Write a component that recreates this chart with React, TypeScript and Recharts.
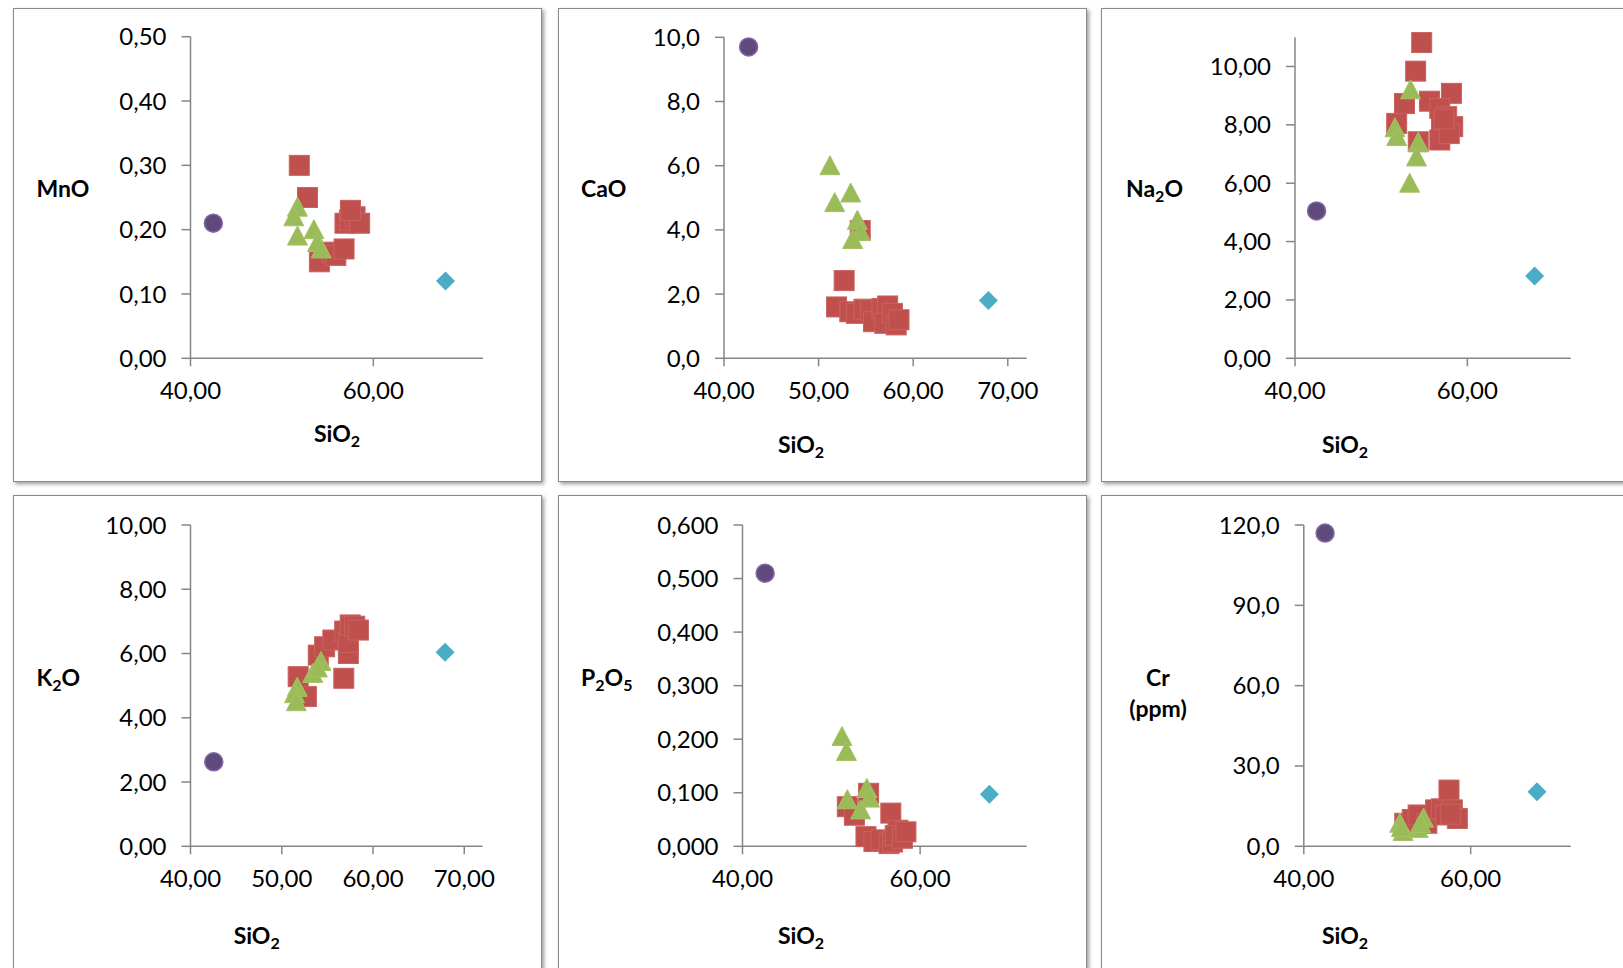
import { Scatter, ScatterChart, XAxis, YAxis } from "recharts";

type Pt = [number, number];
type Part = [string, boolean];

const FONT = "Lato, 'Open Sans', sans-serif";
const AXIS_GREY = "#868686";

// x axis (SiO2) shared by every panel
const sio2Domain: [number, number] = [40, 72];
const sio2TicksCoarse = [40, 60];
const sio2TicksFine = [40, 50, 60, 70];

// MnO vs SiO2
const mnoTicks = [0, 0.1, 0.2, 0.3, 0.4, 0.5];
const mnoCircle: Pt[] = [[42.5, 0.21]];
const mnoSquare: Pt[] = [
  [51.9, 0.3], [52.8, 0.25], [54.1, 0.15], [55.5, 0.165], [55.9, 0.16], [56.8, 0.17],
  [56.9, 0.21], [57.4, 0.215], [58.0, 0.22], [58.5, 0.21], [57.5, 0.23],
];
const mnoTriangle: Pt[] = [[51.7, 0.235], [51.3, 0.22], [51.7, 0.19], [53.5, 0.2], [53.9, 0.18], [54.3, 0.17]];
const mnoDiamond: Pt[] = [[67.9, 0.12]];

// CaO vs SiO2
const caoTicks = [0, 2, 4, 6, 8, 10];
const caoCircle: Pt[] = [[42.6, 9.7]];
const caoSquare: Pt[] = [
  [51.9, 1.6], [52.7, 2.42], [54.4, 3.98], [53.3, 1.45], [54.0, 1.4], [54.8, 1.53], [55.5, 1.5],
  [55.8, 1.14], [56.7, 1.55], [57.3, 1.63], [57.0, 1.09], [57.8, 1.4], [58.2, 1.04], [58.5, 1.2],
];
const caoTriangle: Pt[] = [[51.2, 6.0], [51.7, 4.85], [53.4, 5.15], [54.1, 4.3], [54.4, 3.95], [53.6, 3.7]];
const caoDiamond: Pt[] = [[67.95, 1.8]];

// Na2O vs SiO2
const na2oTicks = [0, 2, 4, 6, 8, 10];
const na2oCircle: Pt[] = [[42.5, 5.05]];
const na2oSquare: Pt[] = [
  [54.7, 10.82], [54.0, 9.84], [52.7, 8.73], [51.8, 8.05], [55.6, 8.81], [58.15, 9.08], [56.8, 8.56],
  [57.6, 8.28], [58.3, 7.94], [57.0, 7.88], [56.8, 7.48], [54.3, 7.42], [57.9, 7.7], [57.3, 8.2],
];
const na2oTriangle: Pt[] = [[53.4, 9.2], [51.6, 7.9], [51.8, 7.6], [54.3, 7.4], [54.1, 6.9], [53.3, 6.0]];
const na2oDiamond: Pt[] = [[67.8, 2.82]];

// K2O vs SiO2
const k2oTicks = [0, 2, 4, 6, 8, 10];
const k2oCircle: Pt[] = [[42.55, 2.63]];
const k2oSquare: Pt[] = [
  [51.8, 5.28], [52.7, 4.66], [54.0, 5.95], [54.7, 6.21], [55.6, 6.42], [56.8, 5.23],
  [56.9, 6.7], [57.3, 6.0], [57.3, 6.35], [57.5, 6.89], [58.0, 6.85], [58.4, 6.73],
];
const k2oTriangle: Pt[] = [[51.7, 4.95], [51.4, 4.75], [51.6, 4.5], [53.4, 5.38], [54.3, 5.75], [53.9, 5.55]];
const k2oDiamond: Pt[] = [[67.9, 6.04]];

// P2O5 vs SiO2
const p2o5Ticks = [0, 0.1, 0.2, 0.3, 0.4, 0.5, 0.6];
const p2o5Circle: Pt[] = [[42.55, 0.51]];
const p2o5Square: Pt[] = [
  [51.8, 0.074], [52.6, 0.058], [54.2, 0.099], [56.7, 0.062], [53.9, 0.018], [54.8, 0.009], [55.6, 0.012],
  [56.5, 0.005], [56.9, 0.008], [57.5, 0.03], [57.2, 0.02], [58.0, 0.015], [58.4, 0.027],
];
const p2o5Triangle: Pt[] = [[51.2, 0.205], [51.7, 0.177], [51.8, 0.087], [54.0, 0.108], [54.3, 0.09], [53.3, 0.068]];
const p2o5Diamond: Pt[] = [[67.8, 0.097]];

// Cr (ppm) vs SiO2
const crTicks = [0, 30, 60, 90, 120];
const crCircle: Pt[] = [[42.55, 117]];
const crSquare: Pt[] = [
  [52.1, 8.6], [53.0, 10.0], [53.7, 11.7], [54.75, 8.6], [55.8, 13.6], [56.5, 14.0],
  [57.0, 11.7], [57.4, 21.0], [57.8, 13.6], [58.4, 10.4], [57.6, 12.0],
];
const crTriangle: Pt[] = [[51.5, 8.6], [51.9, 5.5], [51.7, 7.0], [54.35, 10.5], [53.7, 6.7], [54.0, 8.5]];
const crDiamond: Pt[] = [[67.95, 20.4]];

const fmt = (d: number) => (v: number) => v.toFixed(d).replace(".", ",");
const toXY = (pts: Pt[]) => pts.map(([x, y]) => ({ x, y }));

const Square = (p: any) => (
  <rect x={p.cx - 10} y={p.cy - 10} width={20} height={20} fill="#C0504D" stroke="#CA625F" strokeWidth={1} />
);
const Triangle = (p: any) => (
  <polygon
    points={`${p.cx},${p.cy - 10} ${p.cx + 10},${p.cy + 9} ${p.cx - 10},${p.cy + 9}`}
    fill="#9BBB59"
    stroke="#A4C266"
    strokeWidth={1}
  />
);
const Dot = (p: any) => <circle cx={p.cx} cy={p.cy} r={9} fill="#604A7B" stroke="#8467A5" strokeWidth={1.5} />;
const Diamond = (p: any) => (
  <polygon points={`${p.cx},${p.cy - 9.5} ${p.cx + 9.5},${p.cy} ${p.cx},${p.cy + 9.5} ${p.cx - 9.5},${p.cy}`} fill="#4BACC6" />
);

function rich(parts: Part[]) {
  let down = false;
  return parts.map(([t, sub], i) => {
    const dy = sub && !down ? 5 : !sub && down ? -5 : 0;
    down = sub;
    return (
      <tspan key={i} dy={dy} fontSize={sub ? 16 : undefined}>
        {t}
      </tspan>
    );
  });
}

interface PanelDef {
  left: number;
  top: number;
  plot: { l: number; r: number; t: number; b: number };
  yDomain: [number, number];
  yTicks: number[];
  yDec: number;
  xTicks: number[];
  yTitle: { x: number; anchor: "start" | "middle"; lines: { y: number; parts: Part[] }[] };
  xTitle: { x: number; y: number };
  circle: Pt[];
  square: Pt[];
  triangle: Pt[];
  diamond: Pt[];
}

const W = 529;
const H = 474;

const panels: PanelDef[] = [
  {
    left: 13, top: 8, plot: { l: 177.5, r: 470, t: 28.7, b: 350.3 },
    yDomain: [0, 0.5], yTicks: mnoTicks, yDec: 2, xTicks: sio2TicksCoarse,
    yTitle: { x: 23.5, anchor: "start", lines: [{ y: 188.7, parts: [["MnO", false]] }] },
    xTitle: { x: 324, y: 433.7 },
    circle: mnoCircle, square: mnoSquare, triangle: mnoTriangle, diamond: mnoDiamond,
  },
  {
    left: 558, top: 8, plot: { l: 166, r: 468.7, t: 29.3, b: 350.3 },
    yDomain: [0, 10], yTicks: caoTicks, yDec: 1, xTicks: sio2TicksFine,
    yTitle: { x: 23, anchor: "start", lines: [{ y: 188.7, parts: [["CaO", false]] }] },
    xTitle: { x: 243, y: 445.3 },
    circle: caoCircle, square: caoSquare, triangle: caoTriangle, diamond: caoDiamond,
  },
  {
    left: 1101, top: 8, plot: { l: 194, r: 469.8, t: 29.3, b: 350.3 },
    yDomain: [0, 11], yTicks: na2oTicks, yDec: 2, xTicks: sio2TicksCoarse,
    yTitle: { x: 25, anchor: "start", lines: [{ y: 188.7, parts: [["Na", false], ["2", true], ["O", false]] }] },
    xTitle: { x: 244, y: 445.3 },
    circle: na2oCircle, square: na2oSquare, triangle: na2oTriangle, diamond: na2oDiamond,
  },
  {
    left: 13, top: 495, plot: { l: 177.5, r: 469.5, t: 30, b: 351.3 },
    yDomain: [0, 10], yTicks: k2oTicks, yDec: 2, xTicks: sio2TicksFine,
    yTitle: { x: 23.5, anchor: "start", lines: [{ y: 191, parts: [["K", false], ["2", true], ["O", false]] }] },
    xTitle: { x: 243.7, y: 449 },
    circle: k2oCircle, square: k2oSquare, triangle: k2oTriangle, diamond: k2oDiamond,
  },
  {
    left: 558, top: 495, plot: { l: 184.5, r: 468.7, t: 30, b: 351.3 },
    yDomain: [0, 0.6], yTicks: p2o5Ticks, yDec: 3, xTicks: sio2TicksCoarse,
    yTitle: {
      x: 23, anchor: "start",
      lines: [{ y: 191, parts: [["P", false], ["2", true], ["O", false], ["5", true]] }],
    },
    xTitle: { x: 243, y: 449 },
    circle: p2o5Circle, square: p2o5Square, triangle: p2o5Triangle, diamond: p2o5Diamond,
  },
  {
    left: 1101, top: 495, plot: { l: 202.8, r: 469.8, t: 30, b: 351.3 },
    yDomain: [0, 120], yTicks: crTicks, yDec: 1, xTicks: sio2TicksCoarse,
    yTitle: {
      x: 57, anchor: "middle",
      lines: [{ y: 191, parts: [["Cr", false]] }, { y: 222.3, parts: [["(ppm)", false]] }],
    },
    xTitle: { x: 244, y: 449 },
    circle: crCircle, square: crSquare, triangle: crTriangle, diamond: crDiamond,
  },
];

function Panel({ p }: { p: PanelDef }) {
  const axisLine = { stroke: AXIS_GREY, strokeWidth: 1.5 };
  const tick = { fill: "#000", fontSize: 24, fontFamily: FONT };
  const titleStyle = { fontFamily: FONT, fontSize: 23, fontWeight: 700, fill: "#000" };

  const xTitle = () => (
    <text x={p.xTitle.x} y={p.xTitle.y} textAnchor="middle" style={titleStyle}>
      {rich([["SiO", false], ["2", true]])}
    </text>
  );
  const yTitle = () => (
    <g>
      {p.yTitle.lines.map((line, i) => (
        <text key={i} x={p.yTitle.x} y={line.y} textAnchor={p.yTitle.anchor} style={titleStyle}>
          {rich(line.parts)}
        </text>
      ))}
    </g>
  );

  return (
    <div
      style={{
        position: "absolute",
        left: p.left,
        top: p.top,
        width: W - 2,
        height: H - 2,
        border: "1px solid #8a8a8a",
        boxShadow: "2px 2px 4px rgba(0,0,0,0.4)",
        background: "#fff",
      }}
    >
      <div style={{ position: "absolute", left: -1, top: -1 }}>
        <ScatterChart
          width={W}
          height={H}
          margin={{ top: p.plot.t, right: W - p.plot.r, bottom: H - p.plot.b - 60, left: 0 }}
        >
          <XAxis
            type="number"
            dataKey="x"
            domain={sio2Domain}
            ticks={p.xTicks}
            interval={0}
            tickFormatter={fmt(2)}
            height={60}
            tickSize={8}
            tickMargin={16}
            axisLine={axisLine}
            tickLine={axisLine}
            tick={tick}
            label={xTitle}
          />
          <YAxis
            type="number"
            dataKey="y"
            domain={p.yDomain}
            ticks={p.yTicks}
            interval={0}
            tickFormatter={fmt(p.yDec)}
            width={p.plot.l}
            tickSize={9}
            tickMargin={15}
            axisLine={axisLine}
            tickLine={axisLine}
            tick={tick}
            label={yTitle}
          />
          <Scatter data={toXY(p.circle)} shape={Dot} isAnimationActive={false} />
          <Scatter data={toXY(p.square)} shape={Square} isAnimationActive={false} />
          <Scatter data={toXY(p.triangle)} shape={Triangle} isAnimationActive={false} />
          <Scatter data={toXY(p.diamond)} shape={Diamond} isAnimationActive={false} />
        </ScatterChart>
      </div>
    </div>
  );
}

export default function App() {
  return (
    <div
      style={{
        position: "fixed",
        left: 0,
        top: 0,
        width: 1623,
        height: 968,
        overflow: "hidden",
        background: "#fff",
      }}
    >
      {panels.map((p, i) => (
        <Panel key={i} p={p} />
      ))}
    </div>
  );
}
